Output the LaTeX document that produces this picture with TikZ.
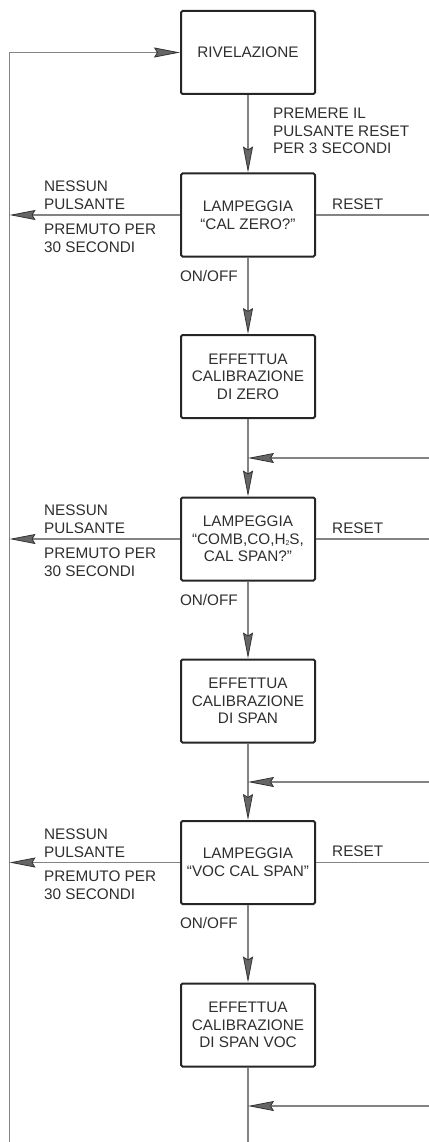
\documentclass[tikz,border=0pt]{standalone}
\usepackage{fontspec}
\setmainfont{Liberation Sans}
\usetikzlibrary{arrows.meta}
\definecolor{txt}{HTML}{2E2E2E}
\definecolor{ln}{HTML}{808484}
\definecolor{bx}{HTML}{252525}
\tikzset{
  stepbox/.style={draw=bx, line width=2pt, rounded corners=1.5pt, minimum width=134pt, minimum height=83pt, align=center, text=txt, font=\fontsize{15.3}{17.6}\selectfont, inner sep=0pt},
  lab/.style={text=txt, font=\fontsize{15.3}{17.6}\selectfont, align=left, inner sep=0pt},
  wire/.style={draw=ln, line width=1.3pt},
  arr/.style={wire, -{Stealth[length=26pt,width=10pt,inset=3pt,color=black!80,fill=black!60,line width=0.8pt]}},
}
\begin{document}
\begin{tikzpicture}[x=1pt,y=-1pt]
\useasboundingbox (0,0) rectangle (428,1142);
\node[stepbox] (b1) at (248,52.5) {RIVELAZIONE};
\node[stepbox] (b2) at (248,215) {LAMPEGGIA\\“CAL ZERO?”};
\node[stepbox] (b3) at (248,376.5) {EFFETTUA\\CALIBRAZIONE\\DI ZERO};
\node[stepbox] (b4) at (248,539) {LAMPEGGIA\\“COMB,CO,H\raisebox{-1.5pt}{\fontsize{7}{7}\selectfont 2}S,\\CAL SPAN?”};
\node[stepbox] (b5) at (248,701) {EFFETTUA\\CALIBRAZIONE\\DI SPAN};
\node[stepbox] (b6) at (248,862.5) {LAMPEGGIA\\“VOC CAL SPAN”};
\node[stepbox] (b7) at (248,1025) {EFFETTUA\\CALIBRAZIONE\\DI SPAN VOC};

\coordinate (Ltop) at (9.5,52.5);
\coordinate (Lbot) at (9.5,1143);
\coordinate (Cbot) at (248,1143);
\coordinate (R1) at (429,458);
\coordinate (R2) at (429,782);
\coordinate (R3) at (429,1106);
\coordinate (j1) at (248,458);
\coordinate (j2) at (248,782);
\coordinate (j3) at (248,1106);
\coordinate (E) at (429,0);

% main flow
\draw[arr] (b1) -- (b2);
\draw[arr] (b2) -- (b3);
\draw[arr] (b3) -- (b4);
\draw[arr] (b4) -- (b5);
\draw[arr] (b5) -- (b6);
\draw[arr] (b6) -- (b7);
\draw[wire] (b7) -- (Cbot);

% left loop
\draw[wire] (Lbot) -- (Ltop);
\draw[arr] (Ltop) -- (b1.west);
\draw[arr] (b2.west) -- (b2.west -| Ltop);
\draw[arr] (b4.west) -- (b4.west -| Ltop);
\draw[arr] (b6.west) -- (b6.west -| Ltop);

% reset lines
\draw[wire] (b2.east) -- (b2.east -| E);
\draw[wire] (b4.east) -- (b4.east -| E);
\draw[wire] (b6.east) -- (b6.east -| E);
\draw[arr] (R1) -- (j1);
\draw[arr] (R2) -- (j2);
\draw[arr] (R3) -- (j3);

% labels
\node[lab, anchor=west] (p1) at (273,131) {PREMERE IL\\PULSANTE RESET\\PER 3 SECONDI};
\foreach \b/\y in {b2/215, b4/539, b6/862.5}{
  \node[lab, anchor=west] (n\b) at (44,\y-19.5) {NESSUN\\PULSANTE};
  \node[lab, anchor=west] (m\b) at (44,\y+23) {PREMUTO PER\\30 SECONDI};
  \node[lab, anchor=west] (r\b) at (332,\y-11) {RESET};
  \node[lab, anchor=east] (o\b) at (238,\y+42+19) {ON/OFF};
}
\end{tikzpicture}
\end{document}
